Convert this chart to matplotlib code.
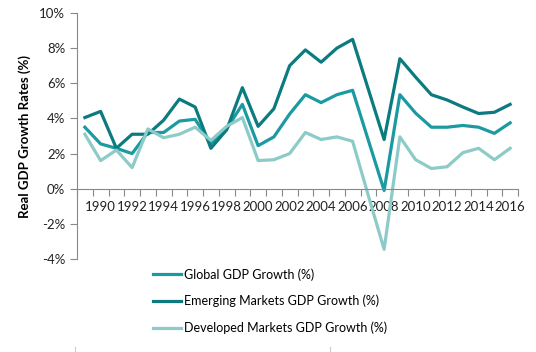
import matplotlib.pyplot as plt
import matplotlib.ticker as mticker
from matplotlib.lines import Line2D

years = list(range(1989, 2017))
global_gdp = [3.5, 2.55, 2.3, 2.0, 3.2, 3.2, 3.85, 3.95, 2.55, 3.4, 4.8, 2.45, 2.95, 4.25,
              5.35, 4.9, 5.35, 5.6, 2.75, -0.1, 5.35, 4.3, 3.5, 3.5, 3.6, 3.5, 3.15, 3.75]
emerging_gdp = [4.05, 4.4, 2.3, 3.1, 3.1, 3.9, 5.1, 4.65, 2.3, 3.35, 5.75, 3.55, 4.55, 7.0,
                7.9, 7.2, 8.0, 8.5, 5.65, 2.8, 7.4, 6.35, 5.35, 5.05, 4.65, 4.28, 4.35, 4.8]
developed_gdp = [3.1, 1.6, 2.2, 1.2, 3.4, 2.9, 3.1, 3.5, 2.75, 3.55, 4.05, 1.6, 1.65, 2.0,
                 3.2, 2.8, 2.95, 2.7, -0.4, -3.45, 2.95, 1.65, 1.15, 1.25, 2.05, 2.3, 1.65, 2.3]
labels = ['Global GDP Growth (%)', 'Emerging Markets GDP Growth (%)',
          'Developed Markets GDP Growth (%)']

plt.rcParams['font.family'] = ['Lato', 'DejaVu Sans']

fig = plt.figure(figsize=(5.36, 3.52), dpi=100)
ax = fig.add_axes([77 / 536, 1 - 259 / 352, (518 - 77) / 536, (259 - 13) / 352])

ax.plot(years, global_gdp, color='#1b9ba1', lw=2.3, label=labels[0])
ax.plot(years, emerging_gdp, color='#0b7b80', lw=2.3, label=labels[1])
ax.plot(years, developed_gdp, color='#8dcbc8', lw=2.3, label=labels[2])

ax.set_xlim(1988.5, 2016.5)
ax.set_ylim(-4, 10)
ax.yaxis.set_major_locator(mticker.MultipleLocator(2))
ax.yaxis.set_major_formatter(mticker.FuncFormatter(lambda v, p: f'{v:.0f}%'))

# ticks between categories, labels on even years
ax.set_xticks([y - 0.5 for y in years] + [2016.5])
ax.set_xticklabels([])
ax.set_xticks([y for y in years if y % 2 == 0], minor=True)
ax.set_xticklabels([str(y) for y in years if y % 2 == 0], minor=True)
ax.tick_params(axis='x', which='major', length=5, color='#888888', width=0.8)
ax.tick_params(axis='x', which='minor', length=0, pad=9, labelsize=9.5, colors='#222222')
ax.tick_params(axis='y', length=5, color='#888888', width=0.8, labelsize=9.5, colors='#222222')

for s in ['top', 'right']:
    ax.spines[s].set_visible(False)
ax.spines['bottom'].set_position(('data', 0))
ax.spines['bottom'].set_color('#888888')
ax.spines['left'].set_color('#888888')

ax.set_ylabel('Real GDP Growth Rates (%)', fontweight='bold', fontsize=9.5, labelpad=6)

fig.legend(loc='upper left', bbox_to_anchor=(148 / 536, 1 - 263 / 352), frameon=False,
           fontsize=9.0, handlelength=2.25, handletextpad=0.25, labelspacing=1.15,
           borderaxespad=0)

# faint cell border marks at the bottom edge
for xp in (74.5 / 536, 329.5 / 536):
    fig.add_artist(Line2D([xp, xp], [0, 5 / 352], color='#cccccc', lw=0.8))

fig.savefig('out.png', dpi=100)
